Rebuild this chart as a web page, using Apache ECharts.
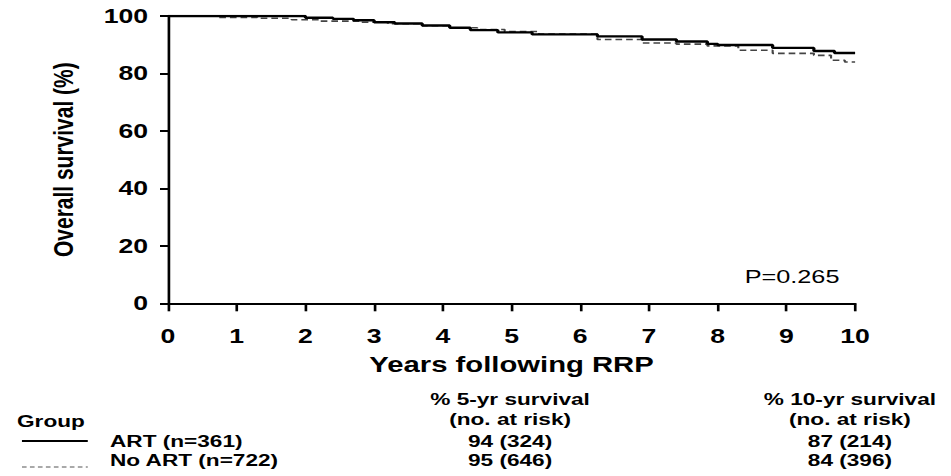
<!DOCTYPE html>
<html>
<head>
<meta charset="utf-8">
<script src="https://cdn.jsdelivr.net/npm/echarts@6/dist/echarts.min.js"></script>
<style>
  html, body { margin: 0; padding: 0; background: #fff; overflow: hidden; }
  /* the figure is laid out narrow and stretched horizontally to the full page width */
  #chart { width: 715px; height: 476px; transform: scaleX(1.33007); transform-origin: 0 0; }
</style>
</head>
<body>
<div id="chart"></div>
<script>
// Kaplan-Meier step curves: event times (years) and survival (%)
const artTime   = [0, 2.0, 2.4, 2.7, 3.0, 3.3, 3.7, 4.1, 4.4, 4.8, 5.3, 6.25, 6.9, 7.4, 7.85, 8.0, 8.8, 9.4, 9.7, 10];
const artSurv   = [100, 99.4, 99.0, 98.5, 97.8, 97.4, 96.7, 95.9, 95.1, 94.3, 93.6, 92.9, 91.8, 91.1, 90.3, 89.9, 88.9, 87.8, 87.1, 87.0];
const noArtTime = [0, 0.7, 1.3, 1.8, 2.2, 2.8, 3.2, 3.7, 4.1, 4.5, 4.9, 5.4, 6.25, 6.9, 7.4, 7.85, 8.3, 8.8, 9.4, 9.65, 9.85, 10];
const noArtSurv = [100, 99.5, 99.2, 98.7, 98.2, 97.8, 97.3, 96.6, 95.9, 95.3, 94.6, 93.7, 91.8, 90.6, 90.2, 89.6, 88.1, 87.0, 86.3, 84.6, 84.0, 84.0];

// Summary table
const groupNames   = ['ART (n=361)', 'No ART (n=722)'];
const fiveYrSurv   = [94, 95];
const fiveYrRisk   = [324, 646];
const tenYrSurv    = [87, 84];
const tenYrRisk    = [214, 396];
const pValueText   = 'P=0.265';

const FONT = '"Liberation Sans", Arial, sans-serif';
const chart = echarts.init(document.getElementById('chart'), null, { renderer: 'svg' });

function pairs(t, s) { return t.map((x, i) => [x, s[i]]); }

function txt(text, x, y, align, size, weight) {
  return {
    type: 'text', x: x, y: y, silent: true,
    style: { text: text, fill: '#000', fontFamily: FONT, fontSize: size || 17,
             fontWeight: weight || 'bold', align: align || 'left', verticalAlign: 'middle' }
  };
}

const col5 = 383.5, col10 = 639;
const rowY = [441, 460];
const graphics = [
  txt('Group', 12.8, 421, 'left'),
  txt('% 5-yr survival', col5, 399, 'center'),
  txt('(no. at risk)', col5, 419, 'center'),
  txt('% 10-yr survival', col10, 399, 'center'),
  txt('(no. at risk)', col10, 419, 'center'),
  { type: 'line', silent: true, shape: { x1: 16.5, y1: 441, x2: 66, y2: 441 },
    style: { stroke: '#000', lineWidth: 2 } },
  { type: 'line', silent: true, shape: { x1: 16.5, y1: 467, x2: 66, y2: 467 },
    style: { stroke: '#555', lineWidth: 1.2, lineDash: [3.5, 2.5] } }
];
groupNames.forEach((g, i) => {
  graphics.push(txt(g, 82.7, rowY[i], 'left'));
  graphics.push(txt(fiveYrSurv[i] + ' (' + fiveYrRisk[i] + ')', col5, rowY[i], 'center'));
  graphics.push(txt(tenYrSurv[i] + ' (' + tenYrRisk[i] + ')', col10, rowY[i], 'center'));
});
graphics.push(txt(pValueText, 595.5, 277, 'center', 19, 'normal'));

chart.setOption({
  animation: false,
  backgroundColor: '#fff',
  grid: { left: 126.3, right: 72.1, top: 16, bottom: 172.7 },
  xAxis: {
    type: 'value', min: 0, max: 10, interval: 1,
    name: 'Years following RRP', nameLocation: 'middle', nameGap: 50,
    nameTextStyle: { fontFamily: FONT, fontSize: 22, fontWeight: 'bold', color: '#000' },
    axisLine: { show: true, lineStyle: { color: '#000', width: 2 } },
    axisTick: { show: true, length: 8, lineStyle: { color: '#000', width: 2 } },
    axisLabel: { fontFamily: FONT, fontSize: 20, fontWeight: 'bold', color: '#000', margin: 23 },
    splitLine: { show: false }
  },
  yAxis: {
    type: 'value', min: 0, max: 100, interval: 20,
    name: 'Overall survival (%)', nameLocation: 'middle', nameGap: 68,
    nameTextStyle: { fontFamily: FONT, fontSize: 21, fontWeight: 'bold', color: '#000' },
    axisLine: { show: true, lineStyle: { color: '#000', width: 2 } },
    axisTick: { show: true, length: 6, lineStyle: { color: '#000', width: 2 } },
    axisLabel: { fontFamily: FONT, fontSize: 20, fontWeight: 'bold', color: '#000', margin: 15 },
    splitLine: { show: false }
  },
  series: [
    { name: 'No ART', type: 'line', step: 'end', showSymbol: false, silent: true,
      data: pairs(noArtTime, noArtSurv),
      lineStyle: { color: '#444', width: 1.6, type: [5, 3] } },
    { name: 'ART', type: 'line', step: 'end', showSymbol: false, silent: true,
      data: pairs(artTime, artSurv),
      lineStyle: { color: '#000', width: 2.4 } }
  ],
  graphic: graphics
});
</script>
</body>
</html>
